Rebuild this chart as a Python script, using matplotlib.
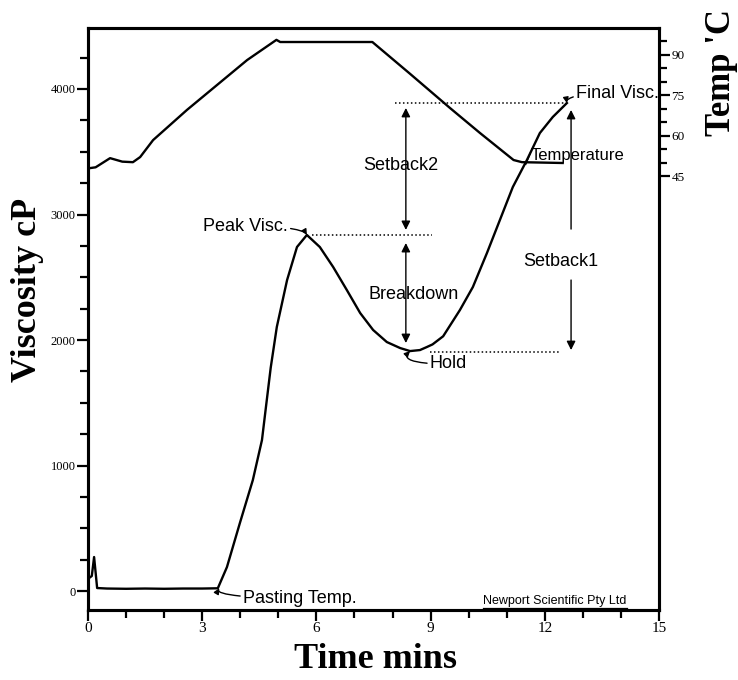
import matplotlib
matplotlib.use('Agg')
import matplotlib.pyplot as plt
from matplotlib.ticker import FixedLocator

# RVA pasting curve
visc_time = [0.03, 0.10, 0.16, 0.24, 0.5, 1.0, 1.5, 2.0, 2.5, 3.0, 3.41, 3.65, 3.99, 4.33,
             4.57, 4.68, 4.80, 4.96, 5.23, 5.49, 5.75, 6.09, 6.44, 6.80, 7.15, 7.49,
             7.85, 8.20, 8.46, 8.72, 8.90, 9.05, 9.33, 9.77, 10.11, 10.48, 10.82,
             11.16, 11.53, 11.87, 12.21, 12.58]
visc_cp = [104, 120, 271, 24, 20, 18, 20, 18, 20, 20, 22, 191, 542, 884,
           1203, 1480, 1780, 2104, 2478, 2741, 2837, 2741, 2582, 2398, 2215, 2080,
           1984, 1936, 1912, 1920, 1944, 1965, 2030, 2239, 2422, 2693, 2956,
           3219, 3434, 3649, 3777, 3888]

temp_time = [0.05, 0.2, 0.58, 0.9, 1.18, 1.37, 1.71, 2.6, 4.18, 4.95, 5.05, 7.47,
             8.46, 9.51, 10.30, 11.18, 11.40, 12.47]
temp_c = [48.0, 48.3, 51.7, 50.4, 50.2, 52.1, 58.4, 69.6, 88.1, 95.6, 94.8, 94.8,
          83.0, 70.3, 61.0, 51.0, 50.2, 49.9]

peak_visc = 2837
hold_visc = 1904
final_visc = 3888

x_major = [0, 3, 6, 9, 12, 15]
y_major = [0, 1000, 2000, 3000, 4000]
temp_major = [45, 60, 75, 90]

serif = ['Liberation Serif', 'DejaVu Serif']
sans = ['Liberation Sans', 'DejaVu Sans']

fig = plt.figure(figsize=(7.38, 6.80), dpi=100)
ax = fig.add_axes([88 / 738, 70 / 680, 571 / 738, 582 / 680])
ax2 = ax.twinx()

ax.plot(visc_time, visc_cp, color='black', lw=1.7, zorder=3)
ax2.plot(temp_time, temp_c, color='black', lw=1.7, zorder=3)

ax.set_xlim(0, 15)
ax.set_ylim(-151, 4486)
ax2.set_ylim(-116, 100)

# reference levels
dot = dict(color='black', lw=1.1, linestyle=(0, (1, 1.6)))
ax.plot([5.88, 9.04], [peak_visc, peak_visc], **dot)
ax.plot([8.98, 12.40], [hold_visc, hold_visc], **dot)
ax.plot([8.06, 12.55], [final_visc, final_visc], **dot)

arr = dict(arrowstyle='-|>', color='black', lw=1.0, mutation_scale=13, shrinkA=0, shrinkB=0)
arr2 = dict(arrowstyle='<|-|>', color='black', lw=1.0, mutation_scale=13, shrinkA=0, shrinkB=0)

# Setback2 and Breakdown (continuous lines)
ax.annotate('', xy=(8.35, 3849), xytext=(8.35, 2877), arrowprops=arr2)
ax.annotate('', xy=(8.35, 2773), xytext=(8.35, 1976), arrowprops=arr2)
ax.text(8.22, 3394, 'Setback2', fontsize=13, family=sans, ha='center', va='center')
ax.text(8.55, 2359, 'Breakdown', fontsize=13, family=sans, ha='center', va='center')

# Setback1 (gap for label)
ax.annotate('', xy=(12.69, 3833), xytext=(12.69, 2884), arrowprops=arr)
ax.annotate('', xy=(12.69, 1920), xytext=(12.69, 2478), arrowprops=arr)
ax.text(12.43, 2622, 'Setback1', fontsize=13, family=sans, ha='center', va='center')

# point labels with leaders
lead = dict(arrowstyle='-|>', color='black', lw=1.0, mutation_scale=8, shrinkA=0, shrinkB=0)
ax.annotate('Peak Visc.', xy=(5.75, 2837), xytext=(5.25, 2908), fontsize=13, family=sans,
            ha='right', va='center', arrowprops=dict(lead, connectionstyle='angle3,angleA=0,angleB=-60'))
ax.annotate('Pasting Temp.', xy=(3.45, 22), xytext=(4.07, -56), fontsize=13, family=sans,
            ha='left', va='center', arrowprops=dict(lead, connectionstyle='angle3,angleA=0,angleB=60'))
ax.annotate('Hold', xy=(8.46, 1912), xytext=(8.98, 1809), fontsize=13, family=sans,
            ha='left', va='center', arrowprops=dict(lead, connectionstyle='angle3,angleA=0,angleB=45'))
ax.annotate('Final Visc.', xy=(12.58, 3888), xytext=(12.82, 3968), fontsize=13, family=sans,
            ha='left', va='center', arrowprops=dict(lead, connectionstyle='angle3,angleA=0,angleB=-80'))
ax.plot([11.50, 11.62], [3400, 3490], color='black', lw=1.0)
ax.text(11.62, 3474, 'Temperature', fontsize=12, family=sans, ha='left', va='center')

ax.text(10.38, -82, 'Newport Scientific Pty Ltd', fontsize=9, family=sans, ha='left', va='center')
ax.plot([10.38, 14.15], [-135, -135], color='black', lw=0.9)

# ticks
ax.set_xticks(x_major)
ax.xaxis.set_minor_locator(FixedLocator(range(0, 16)))
ax.set_yticks(y_major)
ax.yaxis.set_minor_locator(FixedLocator([v * 250 for v in range(0, 18)]))
ax2.set_yticks(temp_major)
ax2.yaxis.set_minor_locator(FixedLocator([50, 55, 65, 70, 80, 85, 95]))

ax.tick_params(axis='both', which='major', direction='out', length=8, width=1.6, pad=1)
ax.tick_params(axis='both', which='minor', direction='out', length=6, width=1.6)
ax.tick_params(axis='y', which='both', right=False)
ax.tick_params(axis='x', which='both', top=False, labelsize=11)
ax.tick_params(axis='y', labelsize=9)
ax2.tick_params(axis='y', which='major', direction='out', length=8, width=1.6, pad=1, labelsize=9.5)
ax2.tick_params(axis='y', which='minor', direction='out', length=6, width=1.6)

for lab in ax.get_xticklabels() + ax.get_yticklabels() + ax2.get_yticklabels():
    lab.set_family(serif)

for a in (ax, ax2):
    for s in a.spines.values():
        s.set_linewidth(2.2)

fig.text(375 / 738, 1 - 660 / 680, 'Time mins', fontsize=26, fontweight='bold', family=serif,
         ha='center', va='center')
fig.text(28 / 738, 1 - 290 / 680, 'Viscosity cP', fontsize=26, fontweight='bold', family=serif,
         ha='center', va='center', rotation=90)
fig.text(721 / 738, 1 - 73 / 680, "Temp 'C", fontsize=25, fontweight='bold', family=serif,
         ha='center', va='center', rotation=90)

fig.savefig('out.png', dpi=100, facecolor='white')
